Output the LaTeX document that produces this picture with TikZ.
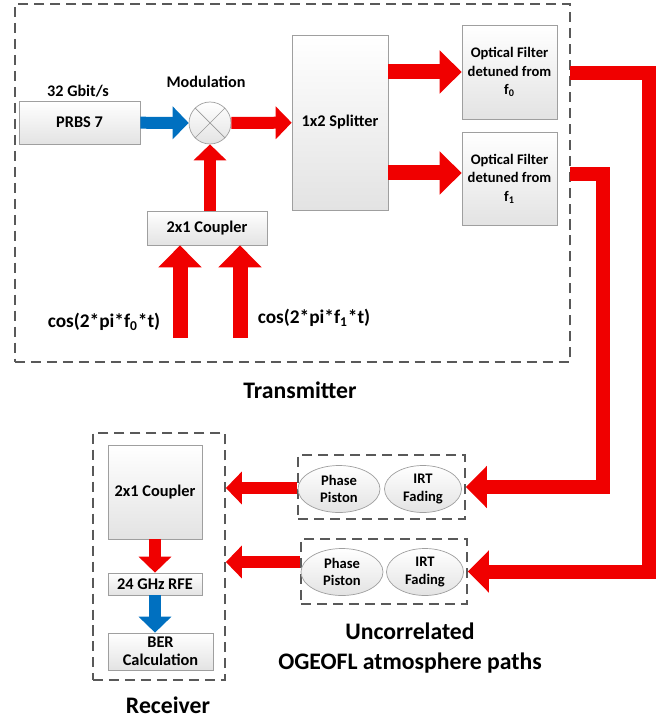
\documentclass[tikz,border=0pt]{standalone}
\usepackage{fontspec}
\setmainfont{Carlito}
\usetikzlibrary{arrows.meta,fit,calc,shapes.geometric}
\definecolor{arrblue}{HTML}{0070C0}
\definecolor{arrred}{HTML}{F00000}
\begin{document}
\begin{tikzpicture}[x=0.02cm,y=-0.02cm,
    blk/.style={draw=gray!75, top color=white, bottom color=gray!22, thin,
      font=\bfseries\fontsize{9.3}{10.5}\selectfont, align=center, inner sep=1pt},
    oval/.style={ellipse, draw=gray!75, top color=white, bottom color=gray!22, thin,
      font=\bfseries\fontsize{8.3}{9.8}\selectfont, align=center, inner sep=0pt},
    dashbox/.style={draw=black!65, line width=1pt, dash pattern=on 5.7pt off 3.4pt, inner sep=0pt},
    lab/.style={font=\bfseries\fontsize{9.2}{11}\selectfont},
    biglab/.style={font=\bfseries\fontsize{13.5}{17}\selectfont, align=center},
    % --- block arrows: shaft = line width, head given in absolute size
    thinarr/.style={line width=0.24cm, -{Triangle[length=0.32cm 0 0, width=0.64cm 0 0]}},
    fatarr/.style={line width=0.30cm, -{Triangle[length=0.44cm 0 0, width=0.84cm 0 0]}},
    linkarr/.style={line width=0.28cm, line join=miter, -{Triangle[length=0.42cm 0 0, width=0.82cm 0 0]}}]
  \useasboundingbox (0,0) rectangle (665,722);

  % --- transmitter
  \node[dashbox, fit={(15,4) (570,362)}] (txbox) {};
  \node[blk, minimum width=2.42cm, minimum height=0.86cm] (prbs) at (79.5,122.5) {PRBS 7};
  \node[lab] (rate) at (78,91) {32 Gbit/s};
  \node[circle, draw=gray!75, top color=white, bottom color=gray!22, thin, minimum size=0.84cm] (mod) at (210,123) {};
  \draw[gray!80] (mod.north west) -- (mod.south east) (mod.north east) -- (mod.south west);
  \node[lab] (modlab) at (206,82) {Modulation};
  \node[blk, minimum width=1.92cm, minimum height=3.5cm] (split) at (340,122.5) {1x2 Splitter};
  \node[blk, minimum width=2.4cm, minimum height=0.68cm] (coup) at (207,228) {2x1 Coupler};
  \node[blk, minimum width=1.9cm, minimum height=1.88cm, font=\bfseries\fontsize{8.3}{10.6}\selectfont] (filt0) at (509.5,72)
    {Optical Filter\\detuned from\\f\textsubscript{0}};
  \node[blk, minimum width=1.9cm, minimum height=1.86cm, font=\bfseries\fontsize{8.3}{10.6}\selectfont] (filt1) at (509.5,178.5)
    {Optical Filter\\detuned from\\f\textsubscript{1}};
  \node[font=\bfseries\fontsize{11}{13}\selectfont] (cos0) at (104,322) {cos(2*pi*f\textsubscript{0}*t)};
  \node[font=\bfseries\fontsize{11}{13}\selectfont] (cos1) at (314,318) {cos(2*pi*f\textsubscript{1}*t)};
  \coordinate (c0) at (180,338);
  \coordinate (c1) at (240,338);
  \node[biglab] (txlab) at (300,390) {Transmitter};

  \draw[thinarr, arrblue] (prbs) -- (mod);
  \draw[thinarr, arrred] (mod) -- (split);
  \draw[thinarr, arrred] (mod.south |- coup.north) -- (mod.south);
  \draw[fatarr, arrred] (c0) -- (c0 |- coup.south);
  \draw[fatarr, arrred] (c1) -- (c1 |- coup.south);
  \draw[fatarr, arrred] (split.east |- filt0.west) -- (filt0.west);
  \draw[fatarr, arrred] ([yshift=0.11cm]split.east |- filt1.west) -- ([yshift=0.11cm]filt1.west);

  % --- the two uncorrelated paths
  \node[dashbox, minimum width=3.34cm, minimum height=1.28cm] (atm1) at (381.5,487) {};
  \node[oval, minimum width=1.64cm, minimum height=0.94cm] (ph1) at (339,489) {Phase\\Piston};
  \node[oval, minimum width=1.54cm, minimum height=0.94cm] (irt1) at (423,489) {IRT\\Fading};
  \node[dashbox, minimum width=3.32cm, minimum height=1.3cm] (atm2) at (384,571.5) {};
  \node[oval, minimum width=1.64cm, minimum height=0.94cm] (ph2) at (342,572) {Phase\\Piston};
  \node[oval, minimum width=1.54cm, minimum height=0.94cm] (irt2) at (425,572) {IRT\\Fading};
  \node[biglab] (atmlab) at (410,648) {Uncorrelated\\OGEOFL atmosphere paths};

  \draw[linkarr, arrred] ([xshift=0.26cm,yshift=-0.03cm]filt0.east) -- ++(79,0) |- (atm2.east);
  \draw[linkarr, arrred] ([xshift=0.26cm,yshift=0.08cm]filt1.east) -- ++(32.5,0) |- (atm1.east);

  % --- receiver
  \node[dashbox, fit={(93,433) (225,680)}] (rxbox) {};
  \node[blk, minimum width=1.88cm, minimum height=1.88cm] (rcoup) at (155,492) {2x1 Coupler};
  \node[blk, minimum width=1.88cm, minimum height=0.44cm] (rfe) at (155,584) {24 GHz RFE};
  \node[blk, minimum width=2.1cm, minimum height=0.74cm] (ber) at (160.5,651.5) {BER\\Calculation};
  \node[biglab] (rxlab) at (168,705) {Receiver};

  \coordinate (in1) at ([yshift=-0.02cm]atm1.west);
  \coordinate (in2) at ([yshift=0.19cm]atm2.west);
  \draw[thinarr, arrred] (in1) -- (in1 -| rxbox.east);
  \draw[thinarr, arrred] (in2) -- (in2 -| rxbox.east);
  \draw[thinarr, arrred] (rcoup) -- (rfe);
  \draw[thinarr, arrblue] (rfe) -- (rfe.south |- ber.north);
\end{tikzpicture}
\end{document}
